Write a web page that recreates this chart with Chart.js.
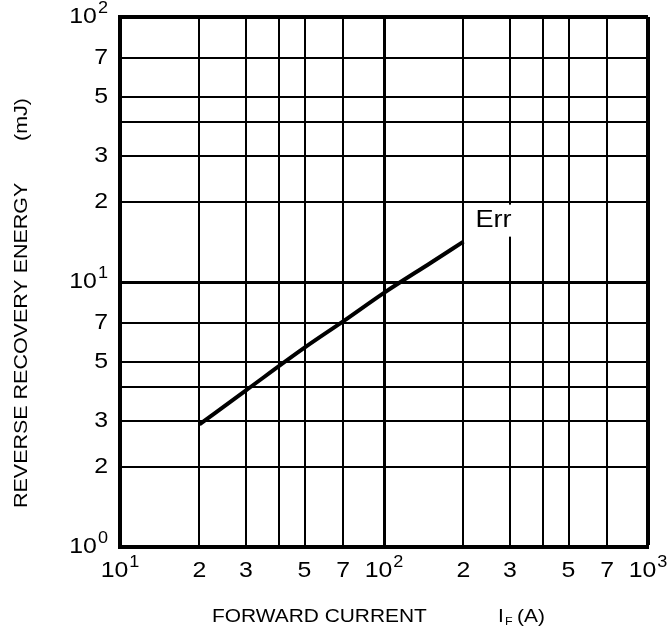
<!DOCTYPE html>
<html>
<head>
<meta charset="utf-8">
<script src="https://cdn.jsdelivr.net/npm/chart.js@4.4.0/dist/chart.umd.min.js"></script>
<style>
  body { margin: 0; background: #fff; }
  #wrap { width: 672px; height: 637px; }
</style>
</head>
<body>
<div id="wrap"><canvas id="errChart"></canvas></div>
<script>
const currentA = [20, 30, 50, 70, 100, 150, 200];
const errMJ = [2.9, 3.9, 5.65, 7.1, 9.1, 11.8, 14.2];

const xTicks = [10, 20, 30, 40, 50, 70, 100, 200, 300, 400, 500, 700, 1000];
const xLabels = ['10^1', '2', '3', '', '5', '7', '10^2', '2', '3', '', '5', '7', '10^3'];
const yTicks = [1, 2, 3, 4, 5, 7, 10, 20, 30, 40, 50, 70, 100];
const yLabels = ['10^0', '2', '3', '', '5', '7', '10^1', '2', '3', '', '5', '7', '10^2'];

const FONT = "'Liberation Sans', Arial, sans-serif";
const SX = 1.13; // the original lettering is a wide sans

function gridWidth(value, decade, edge) {
    if (value === edge) return 4;
    if (value === decade) return 3;
    return 2;
}

function wid(c, text, size) {
    c.font = size + 'px ' + FONT;
    return c.measureText(text).width * SX;
}

function put(c, text, x, y, size) {
    c.save();
    c.font = size + 'px ' + FONT;
    c.translate(x, y);
    c.scale(SX, 1);
    c.fillText(text, 0, 0);
    c.restore();
}

// tick label with a raised exponent, e.g. "10^2"
function tickText(c, label, x, y, align) {
    const parts = label.split('^');
    const w1 = wid(c, parts[0], 22);
    const w2 = parts[1] ? wid(c, parts[1], 16) + 1 : 0;
    const x0 = align === 'right' ? x - w1 - w2 : x - (w1 + w2) / 2;
    c.textAlign = 'left';
    c.textBaseline = 'middle';
    put(c, parts[0], x0, y, 22);
    if (parts[1]) put(c, parts[1], x0 + w1 + 1, y - 8, 16);
}

const labels = {
    id: 'labels',
    afterDraw(chart) {
        const c = chart.ctx;
        const a = chart.chartArea;
        const x = chart.scales.x, y = chart.scales.y;
        c.save();
        c.fillStyle = '#000';

        xTicks.forEach((v, i) => {
            if (xLabels[i]) tickText(c, xLabels[i], x.getPixelForValue(v), a.bottom + 24, 'center');
        });
        yTicks.forEach((v, i) => {
            if (yLabels[i]) tickText(c, yLabels[i], a.left - 12, y.getPixelForValue(v), 'right');
        });

        // curve name on a white patch, like the original
        const n = currentA.length - 1;
        const ex = x.getPixelForValue(currentA[n]) + 12;
        const ey = y.getPixelForValue(errMJ[n]) - 21;
        const ew = wid(c, 'Err', 24);
        c.fillStyle = '#fff';
        c.fillRect(ex - 2, ey - 16, ew + 4, 32);
        c.fillStyle = '#000';
        c.textBaseline = 'middle';
        c.textAlign = 'left';
        put(c, 'Err', ex, ey, 24);

        // x title with subscript
        c.textBaseline = 'alphabetic';
        const by = 622;
        put(c, 'FORWARD CURRENT', a.left + 92, by, 18.5);
        put(c, 'I', a.left + 378, by, 18.5);
        put(c, 'F', a.left + 385, by + 3, 11);
        put(c, '(A)', a.left + 397, by, 18.5);

        // y title, rotated
        c.translate(26.5, 0);
        c.rotate(-Math.PI / 2);
        put(c, 'REVERSE RECOVERY ENERGY', -508, 0, 19);
        put(c, '(mJ)', -141, 0, 19);
        c.restore();
    }
};

new Chart(document.getElementById('errChart'), {
    type: 'line',
    data: {
        datasets: [{
            label: 'Err',
            data: currentA.map((v, i) => ({ x: v, y: errMJ[i] })),
            borderColor: '#000',
            borderWidth: 4,
            pointRadius: 0,
            fill: false,
            cubicInterpolationMode: 'monotone'
        }]
    },
    options: {
        responsive: true,
        maintainAspectRatio: false,
        animation: false,
        layout: { padding: { top: 17, right: 24, left: 0, bottom: 0 } },
        plugins: {
            legend: { display: false },
            tooltip: { enabled: false }
        },
        scales: {
            x: {
                type: 'logarithmic',
                min: 10,
                max: 1000,
                afterBuildTicks: s => { s.ticks = xTicks.map(v => ({ value: v })); },
                afterFit: s => { s.height = 90; },
                border: { display: true, width: 4, color: '#000' },
                grid: {
                    color: '#000',
                    drawTicks: false,
                    lineWidth: ctx => gridWidth(ctx.tick ? ctx.tick.value : 0, 100, 1000)
                },
                ticks: { display: false, autoSkip: false }
            },
            y: {
                type: 'logarithmic',
                min: 1,
                max: 100,
                afterBuildTicks: s => { s.ticks = yTicks.map(v => ({ value: v })); },
                afterFit: s => { s.width = 120; },
                border: { display: true, width: 4, color: '#000' },
                grid: {
                    color: '#000',
                    drawTicks: false,
                    lineWidth: ctx => gridWidth(ctx.tick ? ctx.tick.value : 0, 10, 100)
                },
                ticks: { display: false, autoSkip: false }
            }
        }
    },
    plugins: [labels]
});
</script>
</body>
</html>
